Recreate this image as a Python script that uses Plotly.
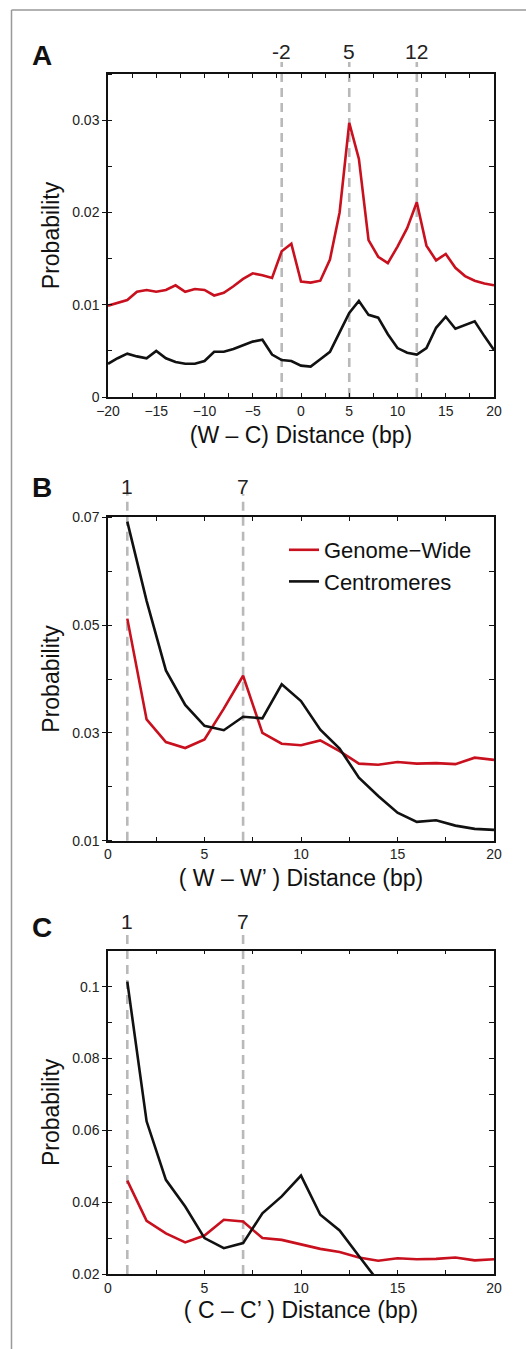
import plotly.graph_objects as go

W, H = 526, 1349

# ---- data ----
dist_A = list(range(-20, 21))
genome_A = [0.0099, 0.0102, 0.0105, 0.0114, 0.0116, 0.0114, 0.0116, 0.0121, 0.0114, 0.0117,
            0.0116, 0.0110, 0.0113, 0.0120, 0.0128, 0.0134, 0.0132, 0.0129, 0.0158, 0.0166,
            0.0125, 0.0124, 0.0126, 0.0149, 0.0200, 0.0297, 0.0258, 0.0170, 0.0152, 0.0145,
            0.0163, 0.0183, 0.0211, 0.0164, 0.0148, 0.0155, 0.0140, 0.0131, 0.0126, 0.0123,
            0.0121]
centro_A = [0.0036, 0.0042, 0.0047, 0.0044, 0.0042, 0.0050, 0.0042, 0.0038, 0.0036, 0.0036,
            0.0039, 0.0049, 0.0049, 0.0052, 0.0056, 0.0060, 0.0062, 0.0046, 0.0040, 0.0039,
            0.0034, 0.0033, 0.0041, 0.0049, 0.0070, 0.0091, 0.0104, 0.0089, 0.0086, 0.0068,
            0.0053, 0.0048, 0.0046, 0.0053, 0.0075, 0.0087, 0.0074, 0.0078, 0.0082, 0.0066,
            0.0051]
marks_A = [-2, 5, 12]

dist_B = list(range(1, 21))
genome_B = [0.0512, 0.0325, 0.0283, 0.0272, 0.0288, 0.0345, 0.0406, 0.0300, 0.0280, 0.0277,
            0.0286, 0.0266, 0.0243, 0.0241, 0.0246, 0.0243, 0.0244, 0.0242, 0.0254, 0.0250]
centro_B = [0.0692, 0.0545, 0.0416, 0.0352, 0.0313, 0.0305, 0.0330, 0.0327, 0.0390, 0.0359,
            0.0306, 0.0271, 0.0217, 0.0183, 0.0152, 0.0135, 0.0138, 0.0128, 0.0122, 0.0120]
marks_B = [1, 7]

dist_C = list(range(1, 21))
genome_C = [0.0460, 0.0348, 0.0313, 0.0288, 0.0307, 0.0351, 0.0346, 0.0300, 0.0295, 0.0283,
            0.0270, 0.0261, 0.0246, 0.0237, 0.0244, 0.0241, 0.0242, 0.0246, 0.0238, 0.0241]
dist_C_centro = list(range(1, 15))
centro_C = [0.1014, 0.0625, 0.0462, 0.0388, 0.0300, 0.0272, 0.0286, 0.0369, 0.0416, 0.0474,
            0.0365, 0.0321, 0.0250, 0.0180]
marks_C = [1, 7]

RED = "#c8101e"
BLACK = "#111111"
GREY = "#b9b9b9"
FONT = "Liberation Sans, Arial, sans-serif"

# panel boxes in pixels
px_x = (108, 494)
panels = {
    "A": dict(top=74, bottom=397, yr=[0, 0.035], dtick=0.01, tick0=0, minor=0.005, xr=[-20, 20],
              title="(W – C) Distance (bp)", xstand=9, letter_y=55, label_y=52, dash_top=62),
    "B": dict(top=517.3, bottom=840.7, yr=[0.01, 0.07], dtick=0.02, tick0=0.01, minor=0.01,
              xr=[0, 20], title="( W – W’ ) Distance (bp)", xstand=9, letter_y=487,
              label_y=486, dash_top=494),
    "C": dict(top=950.7, bottom=1274, yr=[0.02, 0.11], dtick=0.02, tick0=0, minor=0.01,
              xr=[0, 20], title="( C – C’ ) Distance (bp)", xstand=7, letter_y=927,
              label_y=922, dash_top=932),
}

def py(p):
    return 1 - p / H

fig = go.Figure()

series = [
    ("A", dist_A, genome_A, dist_A, centro_A, marks_A, False),
    ("B", dist_B, genome_B, dist_B, centro_B, marks_B, True),
    ("C", dist_C, genome_C, dist_C_centro, centro_C, marks_C, False),
]

layout = {}
shapes = []
annotations = []
for i, (key, xg, yg, xc, yc, marks, show) in enumerate(series):
    p = panels[key]
    n = i + 1
    xa = "x" if n == 1 else f"x{n}"
    ya = "y" if n == 1 else f"y{n}"
    yr_name = f"y{n + 3}"
    fig.add_trace(go.Scatter(x=xg, y=yg, mode="lines", name="Genome−Wide",
                             line=dict(color=RED, width=2.6), showlegend=show,
                             xaxis=xa, yaxis=ya))
    fig.add_trace(go.Scatter(x=xc, y=yc, mode="lines", name="Centromeres",
                             line=dict(color=BLACK, width=2.6), showlegend=show,
                             xaxis=xa, yaxis=ya))
    # dummy trace so the right-hand tick axis is drawn
    fig.add_trace(go.Scatter(x=[], y=[], showlegend=False, hoverinfo="skip",
                             xaxis=xa, yaxis=yr_name))

    dom_y = [py(p["bottom"]), py(p["top"])]
    layout["xaxis" if n == 1 else f"xaxis{n}"] = dict(
        domain=[px_x[0] / W, px_x[1] / W], anchor=ya, range=p["xr"], automargin=True,
        showline=True, linecolor="#111", linewidth=1.5, mirror="ticks",
        ticks="inside", ticklen=4, tickcolor="#111", dtick=5, tick0=0,
        minor=dict(ticks="inside", ticklen=4, dtick=2.5, tickcolor="#111"),
        showgrid=False, zeroline=False,
        tickfont=dict(size=14, color="#222"),
        title=dict(text=p["title"], font=dict(size=23, color="#111"), standoff=p["xstand"]),
    )
    layout["yaxis" if n == 1 else f"yaxis{n}"] = dict(
        domain=dom_y, anchor=xa, range=p["yr"], automargin=True,
        showline=True, linecolor="#111", linewidth=1.5, mirror=True,
        ticks="outside", ticklen=4, tickcolor="#111", dtick=p["dtick"], tick0=p["tick0"],
        minor=dict(ticks="inside", ticklen=4, dtick=p["minor"], tickcolor="#111"),
        showgrid=False, zeroline=False,
        tickfont=dict(size=14, color="#222"),
        title=dict(text="Probability", font=dict(size=23, color="#111"), standoff=6),
    )
    layout[f"yaxis{n + 3}"] = dict(
        overlaying=ya, side="right", anchor=xa, range=p["yr"], automargin=False,
        showline=False, showticklabels=False, showgrid=False, zeroline=False,
        ticks="inside", ticklen=5, tickcolor="#111", dtick=p["dtick"], tick0=p["tick0"],
        minor=dict(ticks="inside", ticklen=5, dtick=p["minor"], tickcolor="#111"),
    )

    for m in marks:
        shapes.append(dict(type="line", xref=xa, yref="paper", x0=m, x1=m,
                           y0=dom_y[0], y1=py(p["dash_top"]),
                           line=dict(color=GREY, width=2.6, dash="9px,6px"), layer="below"))
        annotations.append(dict(text=str(m), xref=xa, yref="paper", x=m, y=py(p["label_y"]),
                                showarrow=False, xanchor="center", yanchor="middle",
                                font=dict(size=21, color="#222")))
    annotations.append(dict(text=f"<b>{key}</b>", xref="paper", yref="paper",
                            x=42 / W, y=py(p["letter_y"]), showarrow=False,
                            xanchor="center", yanchor="middle",
                            font=dict(size=28, color="#111")))

# outer frame (left and top edges only are visible)
shapes.append(dict(type="line", xref="paper", yref="paper", x0=11.5 / W, x1=11.5 / W,
                   y0=-0.01, y1=py(10), line=dict(color="#999", width=1.5)))
shapes.append(dict(type="line", xref="paper", yref="paper", x0=11.5 / W, x1=1.01,
                   y0=py(10), y1=py(10), line=dict(color="#999", width=1.5)))

fig.update_layout(
    **layout,
    width=W, height=H,
    margin=dict(l=0, r=0, t=0, b=0, pad=0, autoexpand=False),
    paper_bgcolor="white", plot_bgcolor="white",
    font=dict(family=FONT, color="#111"),
    shapes=shapes, annotations=annotations,
    legend=dict(x=284 / W, y=py(529), xanchor="left", yanchor="top",
                bgcolor="rgba(0,0,0,0)", font=dict(size=22, color="#111"),
                itemwidth=30, tracegroupgap=0),
)

fig.write_html("out.html", config={"displayModeBar": False},
               post_script="document.body.style.margin='0';")
